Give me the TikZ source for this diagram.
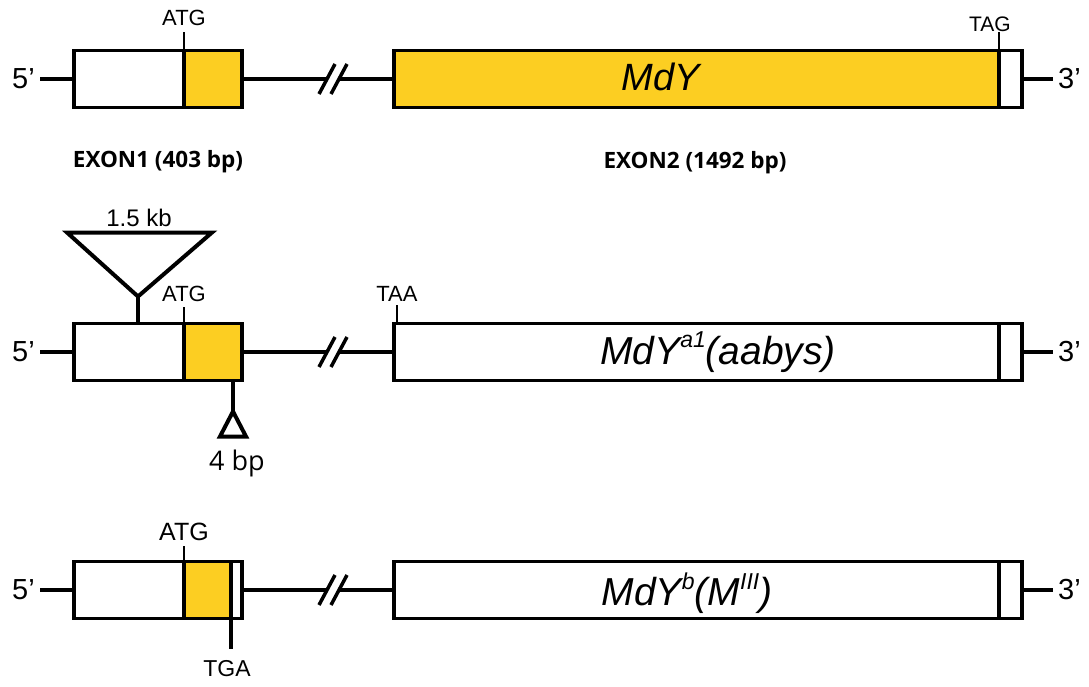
\documentclass[tikz,border=0pt]{standalone}
\usepackage{fontspec}
\setmainfont{Liberation Sans}
\newfontfamily\rotulofont{Open Sans}
\usetikzlibrary{positioning, calc}
\definecolor{amarillo}{RGB}{252,206,34}
\newcommand{\arriba}[1]{\raisebox{0.42em}{\fontsize{23}{23}\selectfont #1}}

\begin{document}
\begin{tikzpicture}[
  x=1pt, y=-1pt,
  exon/.style={rectangle, draw=black, line width=3.2pt, minimum height=57pt,
    inner sep=0pt, outer sep=0pt, anchor=west},
  cds/.style={exon, fill=amarillo},
  utr/.style={exon, fill=white},
  intron/.style={line width=4.5pt},
  marca/.style={line width=2.8pt},
  gruesa/.style={line width=4pt, line join=miter},
  codon/.style={inner sep=0pt, font=\fontsize{22}{22}\selectfont},
  extremo/.style={inner xsep=5pt, inner ysep=0pt, font=\fontsize{29}{29}\selectfont},
  gen/.style={inner sep=0pt, font=\fontsize{38}{38}\selectfont\itshape},
  exonlbl/.style={inner sep=0pt, font=\rotulofont\bfseries\fontsize{22.5}{22.5}\selectfont}
]
  \useasboundingbox (0,0) rectangle (1089,687);

  % fila 1: MdY
  \node[utr, minimum width=110pt] (utrA) at (74,79) {};
  \node[cds, minimum width=58pt, right=0pt of utrA] (cdsA) {};
  \node[cds, minimum width=605pt] (exA) at (394,79) {};
  \node[utr, minimum width=23pt, right=0pt of exA] (utr3A) {};
  \draw[marca] (cdsA.north west) -- ++(0,-18) coordinate (atgA);
  \node[codon, above=7pt of atgA] (atgAt) {ATG};
  \draw[marca] (utr3A.north west) -- ++(0,-18) coordinate (tagA);
  \node[codon, font=\fontsize{21}{21}\selectfont, above=1pt of tagA, xshift=-9pt] (tagAt) {TAG};
  \node[gen] (nomA) at (661,77) {MdY};
  \node[exonlbl] (exon1) at (158,162) {EXON1 (403 bp)};
  \node[exonlbl] (exon2) at (695,163) {EXON2 (1492 bp)};

  % fila 2: MdY a1
  \node[utr, minimum width=110pt] (utrB) at (74,352) {};
  \node[cds, minimum width=58pt, right=0pt of utrB] (cdsB) {};
  \node[utr, minimum width=605pt] (exB) at (394,352) {};
  \node[utr, minimum width=23pt, right=0pt of exB] (utr3B) {};
  \draw[marca] (cdsB.north west) -- ++(0,-17) coordinate (atgB);
  \node[codon, above=5pt of atgB] (atgBt) {ATG};
  \draw[marca] ($(exB.north west)+(3,0)$) -- ++(0,-19) coordinate (taaB);
  \node[codon, above=3pt of taaB] (taaBt) {TAA};
  % insercion 1.5 kb
  \coordinate (insB) at ($(utrB.north west)+(64,0)$);
  \draw[gruesa] (insB) -- ++(0,-27) coordinate (apexB);
  \draw[gruesa] (apexB) -- ++(-71,-64) -- ++(145,0) coordinate (topB) -- cycle;
  \node[codon, font=\fontsize{24}{24}\selectfont, above=6pt of topB, xshift=-73pt] (kbB) {1.5 kb};
  % delecion 4 bp
  \coordinate (delB) at ($(cdsB.south west)+(49,0)$);
  \draw[gruesa] (delB) -- ++(0,31) coordinate (apex2B);
  \draw[gruesa] (apex2B) -- ++(-13,25) -- ++(26,0) -- cycle;
  \node[inner sep=0pt, font=\rotulofont\fontsize{27}{27}\selectfont] (bpB) at (237,463) {4 bp};
  \node[gen, font=\fontsize{39}{39}\selectfont\itshape] (nomB) at (718,352) {MdY\arriba{a1}(aabys)};

  % fila 3: MdY b
  \node[utr, minimum width=110pt] (utrC) at (74,590) {};
  \node[cds, minimum width=47pt, right=0pt of utrC] (cdsC) {};
  \node[utr, minimum width=11pt, right=0pt of cdsC] (stopC) {};
  \node[utr, minimum width=605pt] (exC) at (394,590) {};
  \node[utr, minimum width=23pt, right=0pt of exC] (utr3C) {};
  \draw[marca] (cdsC.north west) -- ++(0,-16) coordinate (atgC);
  \node[codon, font=\fontsize{25}{25}\selectfont, above=5pt of atgC] (atgCt) {ATG};
  \draw[gruesa] (stopC.south west) -- ++(0,30) coordinate (tgaC);
  \node[codon, font=\fontsize{23}{23}\selectfont, below=12pt of tgaC, xshift=-4pt] (tgaCt) {TGA};
  \node[gen, font=\fontsize{39}{39}\selectfont\itshape] (nomC) at (687,593) {MdY\arriba{b}(M\arriba{III})};

  % intrones, cortes y extremos
  \foreach \r/\e in {A/cdsA, B/cdsB, C/stopC} {
    \coordinate (b1\r) at ($(ex\r.west)+(-67,0)$);
    \coordinate (b2\r) at ($(ex\r.west)+(-55,0)$);
    \draw[intron] (\e.east) -- (b1\r);
    \draw[intron] (b2\r) -- (ex\r.west);
    \draw[marca, line width=3.5pt] ($(b1\r)+(-8,15)$) -- ($(b1\r)+(8,-15)$);
    \draw[marca, line width=3.5pt] ($(b2\r)+(-8,15)$) -- ($(b2\r)+(8,-15)$);
    \node[extremo, left=34pt of utr\r.west] (p5\r) {5’};
    \node[extremo, right=31pt of utr3\r.east] (p3\r) {3’};
    \draw[intron] (p5\r) -- (utr\r);
    \draw[intron] (utr3\r) -- (p3\r);
  }
\end{tikzpicture}
\end{document}
